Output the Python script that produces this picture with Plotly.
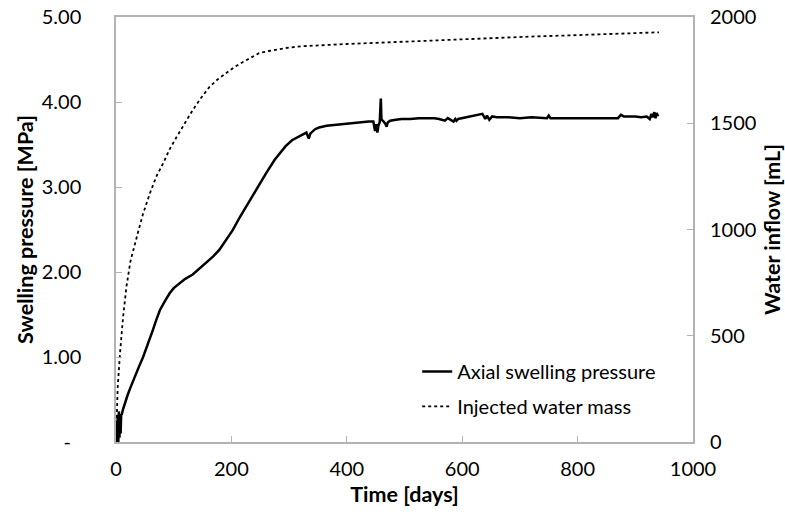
import plotly.graph_objects as go

# Axial swelling pressure [MPa] vs time [days]
t_p = [0, 1, 2, 3, 4, 5, 6, 7, 8, 9, 10, 12, 15, 20, 25, 30, 40, 47, 55, 64, 70, 76, 85, 93,
       100, 110, 120, 133, 145, 156, 168, 179, 190, 202, 215, 231, 245, 260, 275, 285, 294,
       305, 315, 323, 330, 334, 337, 345, 352, 365, 380, 400, 420, 438, 446, 449, 451, 453,
       455, 457, 459, 460, 462, 464, 467, 469, 471, 475, 485, 495, 510, 525, 540, 552, 560,
       570, 575, 580, 585, 588, 590, 593, 635, 640, 643, 647, 652, 660, 680, 700, 720, 747,
       750, 753, 770, 800, 830, 853, 870, 875, 880, 890, 900, 910, 920, 925, 928, 930, 933,
       935, 937, 939, 940]
pressure = [0.00, 0.25, 0.02, 0.32, 0.00, 0.36, 0.05, 0.30, 0.10, 0.33, 0.32, 0.38, 0.45,
            0.55, 0.64, 0.73, 0.89, 1.00, 1.14, 1.32, 1.44, 1.55, 1.66, 1.75, 1.81, 1.87,
            1.92, 1.97, 2.04, 2.10, 2.18, 2.26, 2.37, 2.49, 2.65, 2.83, 3.00, 3.16, 3.32,
            3.41, 3.48, 3.55, 3.59, 3.62, 3.64, 3.57, 3.63, 3.68, 3.70, 3.72, 3.73, 3.75,
            3.76, 3.77, 3.77, 3.66, 3.74, 3.64, 3.73, 3.76, 4.04, 3.80, 3.78, 3.77, 3.74,
            3.71, 3.76, 3.78, 3.79, 3.80, 3.80, 3.81, 3.81, 3.81, 3.80, 3.78, 3.81, 3.79,
            3.77, 3.80, 3.78, 3.80, 3.86, 3.80, 3.84, 3.79, 3.83, 3.82, 3.82, 3.81, 3.82,
            3.81, 3.84, 3.81, 3.81, 3.81, 3.81, 3.81, 3.81, 3.85, 3.83, 3.83, 3.83, 3.82,
            3.83, 3.80, 3.86, 3.82, 3.88, 3.81, 3.87, 3.84, 3.85]

# Injected water mass [mL] vs time [days]
t_w = [0, 1, 3, 7, 12, 18, 25, 36, 47, 59, 70, 82, 93, 105, 119, 133, 147, 162, 176, 191,
       205, 220, 234, 248, 265, 280, 294, 320, 360, 400, 438, 480, 520, 559, 610, 660, 720,
       780, 840, 900, 941]
water = [0, 104, 260, 419, 580, 730, 850, 965, 1075, 1172, 1250, 1313, 1378, 1435, 1500,
         1562, 1618, 1671, 1706, 1736, 1764, 1788, 1810, 1830, 1840, 1848, 1854, 1862, 1869,
         1873, 1877, 1882, 1885, 1888, 1896, 1902, 1908, 1913, 1918, 1923, 1928]

left_tickvals = [0, 1, 2, 3, 4, 5]
left_ticktext = ["-\u00a0\u00a0", "1.00", "2.00", "3.00", "4.00", "5.00"]
right_tickvals = [0, 500, 1000, 1500, 2000]
x_tickvals = [0, 200, 400, 600, 800, 1000]

FONT = "Lato"
GRID = "#b3b3b3"
TITLE_FONT = dict(family=FONT, size=21.5, color="black")

fig = go.Figure()
fig.add_trace(go.Scatter(x=t_p, y=pressure, mode="lines", name="Axial swelling pressure",
                         legendgroup="a",
                         line=dict(color="black", width=2.5)))
fig.add_trace(go.Scatter(x=t_w, y=water, mode="lines", name="Injected water mass",
                         legendgroup="b",
                         yaxis="y2", line=dict(color="black", width=1.8, dash="dot")))

fig.update_layout(
    width=785, height=515,
    margin=dict(l=116, r=92, t=17, b=73, autoexpand=False),
    paper_bgcolor="white", plot_bgcolor="white",
    font=dict(family=FONT, size=20, color="black"),
    showlegend=True,
    legend=dict(x=0.522, y=0.212, xanchor="left", yanchor="top",
                bgcolor="rgba(0,0,0,0)", font=dict(size=20), itemwidth=30,
                tracegroupgap=6),
    xaxis=dict(range=[0, 1000], tickvals=x_tickvals, showline=True, linecolor=GRID,
               linewidth=1.5, mirror=True, ticks="inside", ticklen=6, tickcolor=GRID,
               showgrid=False, zeroline=False, ticklabelstandoff=8, automargin=False,
               title=dict(text="<b>Time [days]</b>", standoff=8, font=TITLE_FONT)),
    yaxis=dict(range=[0, 5], tickvals=left_tickvals, ticktext=left_ticktext,
               showline=True, linecolor=GRID, linewidth=1.5, mirror=True,
               ticks="inside", ticklen=6, tickcolor=GRID, showgrid=False, zeroline=False,
               ticklabelstandoff=29, automargin=False,
               title=dict(text="<b>Swelling pressure [MPa]</b>", standoff=2, font=TITLE_FONT)),
    yaxis2=dict(range=[0, 2000], tickvals=right_tickvals, overlaying="y", side="right",
                showline=False, ticks="inside", ticklen=6, tickcolor=GRID,
                showgrid=False, zeroline=False, ticklabelstandoff=16, automargin=False,
                title=dict(text="<b>Water inflow [mL]</b>", standoff=11, font=TITLE_FONT)),
)

fig.write_html("out.html")
